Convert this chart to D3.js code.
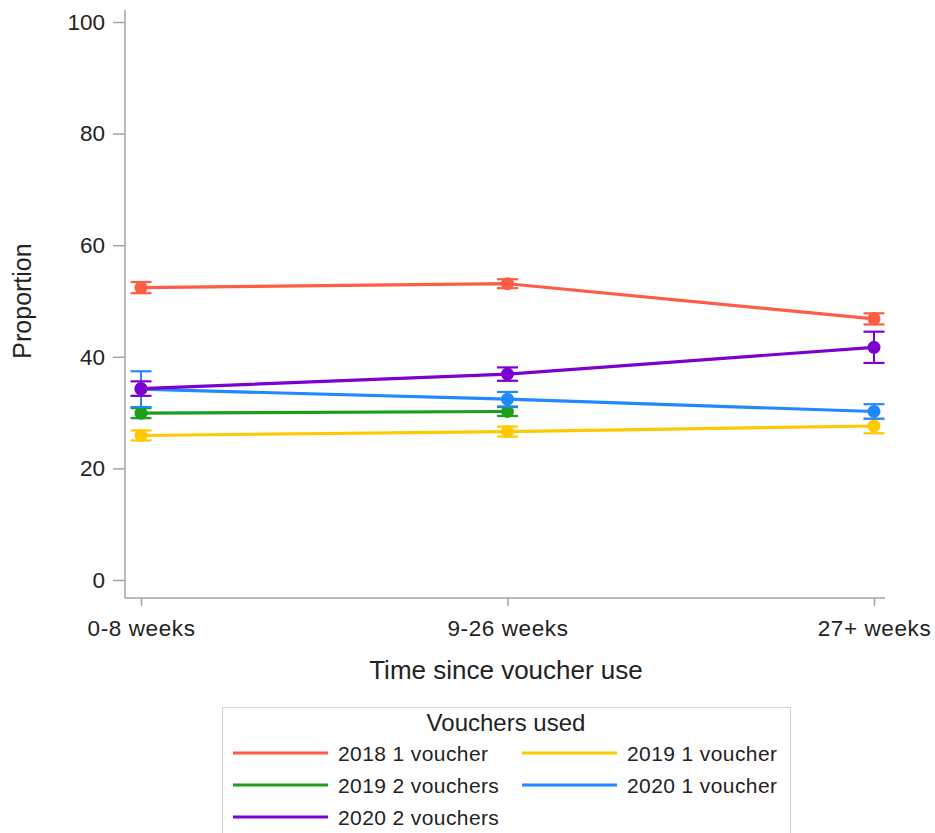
<!DOCTYPE html>
<html>
<head>
<meta charset="utf-8">
<script src="https://cdn.jsdelivr.net/npm/d3@7"></script>
<style>
  body { margin: 0; background: #fff; }
  text { font-family: Arial, "Liberation Sans", sans-serif; fill: #222; }
</style>
</head>
<body>
<svg id="chart" width="935" height="833"></svg>
<script>
// Categories on the x axis
const periods = ["0-8 weeks", "9-26 weeks", "27+ weeks"];
const yTicks = [0, 20, 40, 60, 80, 100];

// Series: mean proportion and half-width of the error bar per period
const seriesNames = ["2018 1 voucher", "2019 1 voucher", "2019 2 vouchers", "2020 1 voucher", "2020 2 vouchers"];
const seriesColors = ["#ff5c44", "#ffc800", "#1b9e1b", "#2188ff", "#7d00d0"];
const values2018v1 = [52.4, 53.1, 46.8];
const errors2018v1 = [1.0, 0.8, 1.0];
const values2019v1 = [25.9, 26.6, 27.6];
const errors2019v1 = [0.9, 0.9, 1.3];
const values2019v2 = [29.9, 30.2];
const errors2019v2 = [0.9, 0.8];
const values2020v1 = [34.2, 32.4, 30.2];
const errors2020v1 = [3.2, 1.3, 1.3];
const values2020v2 = [34.3, 36.9, 41.7];
const errors2020v2 = [1.3, 1.2, 2.8];

const series = [
  { name: seriesNames[0], color: seriesColors[0], v: values2018v1, e: errors2018v1 },
  { name: seriesNames[1], color: seriesColors[1], v: values2019v1, e: errors2019v1 },
  { name: seriesNames[2], color: seriesColors[2], v: values2019v2, e: errors2019v2 },
  { name: seriesNames[3], color: seriesColors[3], v: values2020v1, e: errors2020v1 },
  { name: seriesNames[4], color: seriesColors[4], v: values2020v2, e: errors2020v2 }
];

const svg = d3.select("#chart");

const x = d3.scalePoint().domain(periods).range([141, 874]);
const y = d3.scaleLinear().domain([0, 100]).range([580, 22]);

// Y axis
const yAxis = svg.append("g").attr("transform", "translate(125,0)")
  .call(d3.axisLeft(y).tickValues(yTicks).tickSize(12).tickPadding(8));
yAxis.select(".domain").attr("d", "M0,10V598");
// X axis
const xAxis = svg.append("g").attr("transform", "translate(0,598)")
  .call(d3.axisBottom(x).tickSize(8).tickPadding(14));
xAxis.select(".domain").attr("d", "M125,0H885");

svg.selectAll(".domain, .tick line").attr("stroke", "#a0a4a8").attr("stroke-width", 1.5);
svg.selectAll(".tick text").style("font-size", "22.5px").attr("fill", "#222");
xAxis.selectAll(".tick text").style("letter-spacing", "0.6px");

// Axis titles
svg.append("text").attr("x", 506).attr("y", 679).attr("text-anchor", "middle")
  .style("font-size", "26px").text("Time since voucher use");
svg.append("text").attr("transform", "translate(31,301) rotate(-90)").attr("text-anchor", "middle")
  .style("font-size", "25px").text("Proportion");

// Lines, error bars and markers
const line = d3.line().x(d => x(d.p)).y(d => y(d.v));
series.forEach(s => {
  const pts = s.v.map((v, i) => ({ p: periods[i], v, e: s.e[i] }));
  const g = svg.append("g");
  g.append("path").datum(pts).attr("d", line).attr("fill", "none")
    .attr("stroke", s.color).attr("stroke-width", 3.2);
  pts.forEach(d => {
    const cx = x(d.p);
    const y0 = y(d.v - d.e), y1 = y(d.v + d.e);
    g.append("line").attr("x1", cx).attr("x2", cx).attr("y1", y0).attr("y2", y1)
      .attr("stroke", s.color).attr("stroke-width", 2);
    [y0, y1].forEach(yy => g.append("line").attr("x1", cx - 10.5).attr("x2", cx + 10.5)
      .attr("y1", yy).attr("y2", yy).attr("stroke", s.color).attr("stroke-width", 2.2));
    g.append("circle").attr("cx", cx).attr("cy", y(d.v)).attr("r", 6.5).attr("fill", s.color);
  });
});

// Legend
const lg = svg.append("g");
lg.append("rect").attr("x", 222.5).attr("y", 707.5).attr("width", 568).attr("height", 140)
  .attr("fill", "#fff").attr("stroke", "#d4d4d4").attr("stroke-width", 1);
lg.append("text").attr("x", 506).attr("y", 731).attr("text-anchor", "middle")
  .style("font-size", "24px").text("Vouchers used");
const legendOrder = [0, 1, 2, 3, 4];
legendOrder.forEach((si, k) => {
  const col = k % 2, row = Math.floor(k / 2);
  const lx = col === 0 ? 233 : 522;
  const ly = 753 + row * 32;
  lg.append("line").attr("x1", lx).attr("x2", lx + 95).attr("y1", ly).attr("y2", ly)
    .attr("stroke", series[si].color).attr("stroke-width", 3.2);
  lg.append("text").attr("x", lx + 105).attr("y", ly + 8)
    .style("font-size", "21px").style("letter-spacing", "0.4px").text(series[si].name);
});
</script>
</body>
</html>
